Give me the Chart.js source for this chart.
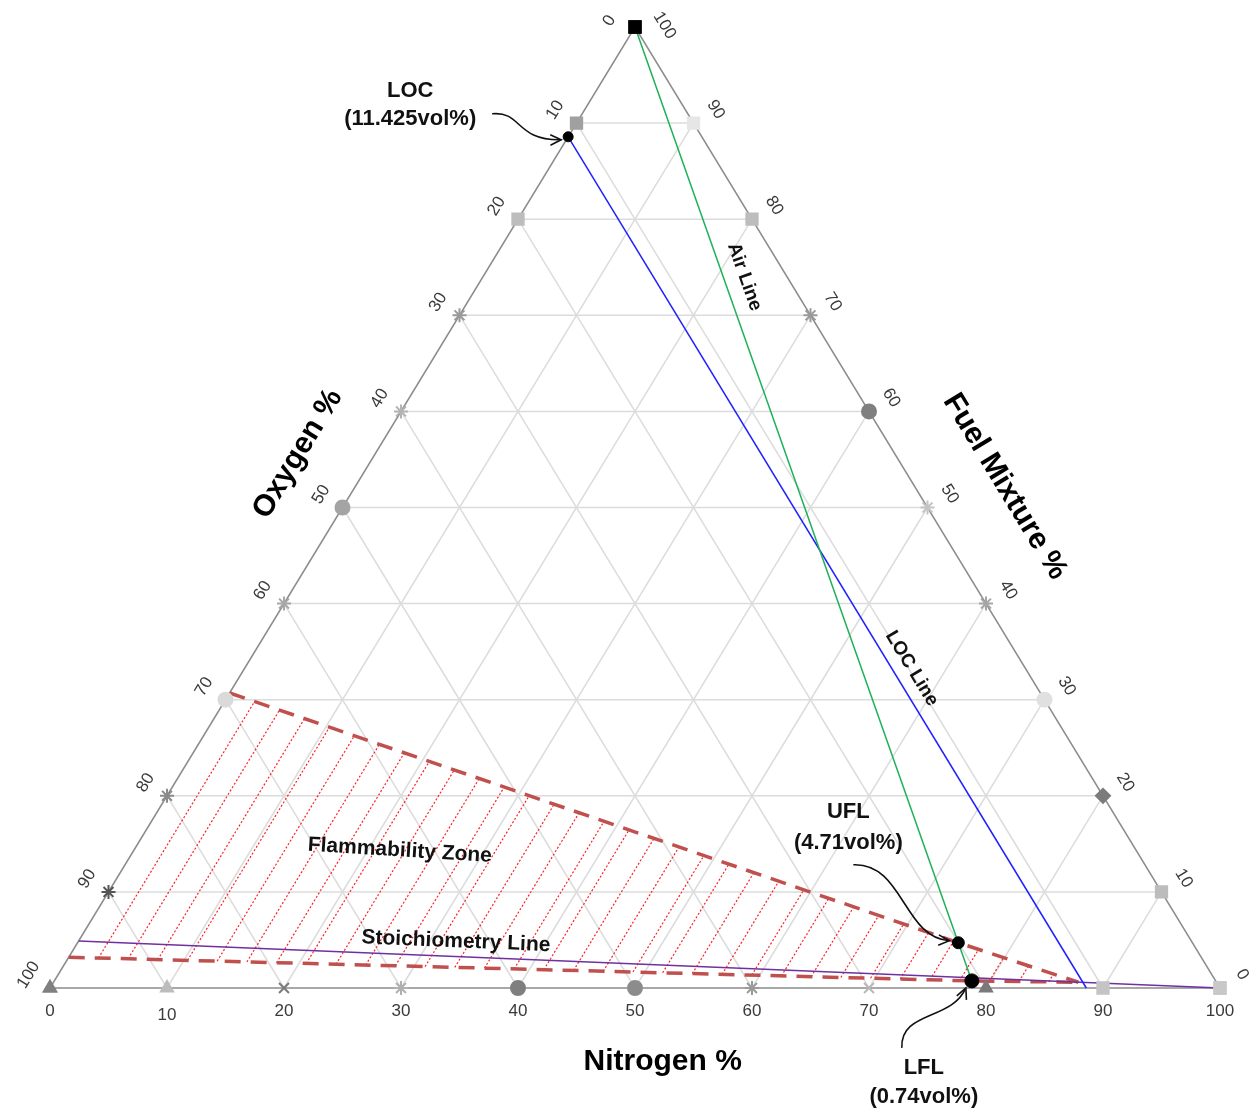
<!DOCTYPE html>
<html>
<head>
<meta charset="utf-8">
<title>Flammability diagram</title>
<script src="https://cdn.jsdelivr.net/npm/chart.js@4.4.1/dist/chart.umd.min.js"></script>
<style>
  html, body { margin: 0; padding: 0; background: #fff; }
</style>
</head>
<body>
<canvas id="ternaryChart" width="1257" height="1118"></canvas>
<script>
// every ternary point is [Oxygen, Fuel, Nitrogen] in vol%
const tickValues = [0, 10, 20, 30, 40, 50, 60, 70, 80, 90, 100];
const gridLevels = [10, 20, 30, 40, 50, 60, 70, 80, 90];

const airLine = [[0, 100, 0], [21, 0, 79]];
const locLine = [[11.425, 88.575, 0], [11.425, 0, 88.575]];
const stoichLine = [[95.1, 4.9, 0], [0, 0, 100]];
const upperLimit = [[69.3, 30.7, 0], [20.01, 4.71, 75.28], [11.8, 0.6, 87.6]];
const lowerLimit = [[96.8, 3.2, 0], [20.84, 0.74, 78.42], [11.8, 0.6, 87.6]];

const locPoint = [11.425, 88.575, 0];
const uflPoint = [20.01, 4.71, 75.28];
const lflPoint = [20.84, 0.74, 78.42];

// marker look of the tick points on each side (Excel style)
const bottomShapes = ['triangle', 'triangle', 'crossRot', 'star', 'circle', 'circle', 'star', 'crossRot', 'triangle', 'rect', 'rect'];
const bottomColors = ['#808080', '#bcbcbc', '#7a7a7a', '#b0b0b0', '#7f7f7f', '#8c8c8c', '#9a9a9a', '#b8b8b8', '#7a7a7a', '#c4c4c4', '#c8c8c8'];
const leftShapes = ['rect', 'rect', 'rect', 'star', 'star', 'circle', 'star', 'circle', 'star', 'star', 'triangle'];
const leftColors = ['#000000', '#a0a0a0', '#bdbdbd', '#9a9a9a', '#b4b4b4', '#a4a4a4', '#a8a8a8', '#dadada', '#8a8a8a', '#555555', '#808080'];
const rightShapes = ['rect', 'rect', 'rectRot', 'circle', 'star', 'star', 'circle', 'star', 'rect', 'rect', 'rect'];
const rightColors = ['#c8c8c8', '#bcbcbc', '#7c7c7c', '#e0e0e0', '#a6a6a6', '#c4c4c4', '#7f7f7f', '#9a9a9a', '#bdbdbd', '#e6e6e6', '#000000'];

const FONT = "'Liberation Sans', Arial, sans-serif";

// ternary -> plain x/y (0..100) used by the linear scales
function tern(p) {
    const s = p[0] + p[1] + p[2];
    return { x: (p[2] + p[1] / 2) * 100 / s, y: p[1] * 100 / s };
}

function lineSet(points, style, order) {
    return Object.assign({
        data: points.map(tern),
        showLine: true,
        pointRadius: 0,
        fill: false,
        clip: false,
        order: order
    }, style);
}

const datasets = [];

// grid
gridLevels.forEach(function (k) {
    const grid = { borderColor: '#dcdcdc', borderWidth: 1.5 };
    datasets.push(lineSet([[100 - k, k, 0], [0, k, 100 - k]], grid, 20));   // fuel = k
    datasets.push(lineSet([[k, 100 - k, 0], [k, 0, 100 - k]], grid, 20));   // oxygen = k
    datasets.push(lineSet([[100 - k, 0, k], [0, 100 - k, k]], grid, 20));   // nitrogen = k
});

// triangle frame
datasets.push(lineSet([[100, 0, 0], [0, 0, 100], [0, 100, 0], [100, 0, 0]],
    { borderColor: '#8c8c8c', borderWidth: 1.5 }, 19));

// flammability limits (hatch is drawn just before the lower one)
datasets.push(lineSet(lowerLimit,
    { borderColor: '#c0504d', borderWidth: 3.5, borderDash: [16, 10], hatchZone: true }, 8));
datasets.push(lineSet(upperLimit,
    { borderColor: '#c0504d', borderWidth: 3.5, borderDash: [16, 10] }, 7));

datasets.push(lineSet(stoichLine, { borderColor: '#7030a0', borderWidth: 1.5 }, 6));
datasets.push(lineSet(airLine, { borderColor: '#1fb05a', borderWidth: 1.5 }, 5));
datasets.push(lineSet(locLine, { borderColor: '#2020ff', borderWidth: 1.5 }, 5));

// tick markers on the three sides
function markerSet(points, shapes, colors) {
    return {
        data: points.map(tern),
        showLine: false,
        clip: false,
        order: 3,
        pointStyle: shapes,
        pointRadius: shapes.map(function (s) { return s === 'rect' ? 8 : 7; }),
        pointBackgroundColor: colors,
        pointBorderColor: colors,
        pointBorderWidth: 2
    };
}
datasets.push(markerSet(tickValues.map(function (t) { return [100 - t, 0, t]; }), bottomShapes, bottomColors));
datasets.push(markerSet(tickValues.map(function (t) { return [0, t, 100 - t]; }), rightShapes, rightColors));
datasets.push(markerSet(tickValues.map(function (t) { return [t, 100 - t, 0]; }), leftShapes, leftColors));

// key points
datasets.push({
    data: [locPoint, uflPoint, lflPoint].map(tern),
    showLine: false,
    clip: false,
    order: 1,
    pointRadius: [5, 6, 7],
    pointBackgroundColor: '#000',
    pointBorderColor: '#000'
});

function px(chart, p) {
    const v = tern(p);
    return { x: chart.scales.x.getPixelForValue(v.x), y: chart.scales.y.getPixelForValue(v.y) };
}

function pointOnPoly(poly, t) {
    const xT = poly[0].x + t * (poly[poly.length - 1].x - poly[0].x);
    for (let i = 1; i < poly.length; i++) {
        const a = poly[i - 1], b = poly[i];
        if (xT <= b.x || i === poly.length - 1) {
            const f = (xT - a.x) / (b.x - a.x);
            return { x: xT, y: a.y + f * (b.y - a.y) };
        }
    }
}

const hatchPlugin = {
    id: 'hatch',
    beforeDatasetDraw: function (chart, args) {
        if (!chart.data.datasets[args.index].hatchZone) return;
        const ctx = chart.ctx;
        const lower = lowerLimit.map(function (p) { return px(chart, p); });
        const upper = upperLimit.map(function (p) { return px(chart, p); });
        const n = 34;
        ctx.save();
        ctx.strokeStyle = '#ff2020';
        ctx.lineWidth = 1.2;
        ctx.setLineDash([2, 2]);
        for (let i = 1; i < n; i++) {
            const a = pointOnPoly(lower, i / n), b = pointOnPoly(upper, i / n);
            ctx.beginPath();
            ctx.moveTo(a.x, a.y);
            ctx.lineTo(b.x, b.y);
            ctx.stroke();
        }
        ctx.restore();
    }
};

function rotatedText(ctx, text, x, y, angle, font, color) {
    ctx.save();
    ctx.translate(x, y);
    ctx.rotate(angle);
    ctx.font = font;
    ctx.fillStyle = color;
    ctx.textAlign = 'center';
    ctx.textBaseline = 'middle';
    ctx.fillText(text, 0, 0);
    ctx.restore();
}

// text placed along a segment p0->p1 at fraction f, shifted off by d
function alongText(ctx, text, p0, p1, f, d, font) {
    const dx = p1.x - p0.x, dy = p1.y - p0.y, len = Math.hypot(dx, dy);
    const nx = dy / len, ny = -dx / len;
    rotatedText(ctx, text, p0.x + dx * f + nx * d, p0.y + dy * f + ny * d, Math.atan2(dy, dx), font, '#111');
}

function curvedArrow(ctx, base, pts) {
    const p = pts.map(function (o) { return { x: base.x + o[0], y: base.y + o[1] }; });
    ctx.save();
    ctx.strokeStyle = '#111';
    ctx.lineWidth = 1.6;
    ctx.beginPath();
    ctx.moveTo(p[0].x, p[0].y);
    ctx.bezierCurveTo(p[1].x, p[1].y, p[2].x, p[2].y, p[3].x, p[3].y);
    ctx.stroke();
    const ang = Math.atan2(p[3].y - p[2].y, p[3].x - p[2].x);
    ctx.beginPath();
    ctx.moveTo(p[3].x - 12 * Math.cos(ang - 0.45), p[3].y - 12 * Math.sin(ang - 0.45));
    ctx.lineTo(p[3].x, p[3].y);
    ctx.lineTo(p[3].x - 12 * Math.cos(ang + 0.45), p[3].y - 12 * Math.sin(ang + 0.45));
    ctx.stroke();
    ctx.restore();
}

const labelPlugin = {
    id: 'ternaryLabels',
    afterDatasetsDraw: function (chart) {
        const ctx = chart.ctx;
        const bl = px(chart, [100, 0, 0]), br = px(chart, [0, 0, 100]), top = px(chart, [0, 100, 0]);
        const leftAng = Math.atan2(bl.y - top.y, bl.x - top.x) + Math.PI;   // reads upward
        const rightAng = Math.atan2(br.y - top.y, br.x - top.x);             // reads downward
        const tickFont = '17px ' + FONT;
        const tickColor = '#3a3a3a';

        function unit(a, b) {
            const dx = b.x - a.x, dy = b.y - a.y, l = Math.hypot(dx, dy);
            return { x: dx / l, y: dy / l };
        }
        const uLeft = unit(top, bl), uRight = unit(top, br);
        const nLeft = { x: -uLeft.y, y: uLeft.x };      // outward, up-left
        const nRight = { x: uRight.y, y: -uRight.x };   // outward, up-right

        tickValues.forEach(function (t) {
            const b = px(chart, [100 - t, 0, t]);
            ctx.font = tickFont;
            ctx.fillStyle = tickColor;
            ctx.textAlign = 'center';
            ctx.textBaseline = 'middle';
            ctx.fillText(String(t), b.x, b.y + (t === 10 ? 27 : 23));

            const l = px(chart, [t, 100 - t, 0]);
            const sl = t === 0 ? 8 : 0;
            rotatedText(ctx, String(t), l.x + nLeft.x * 25 + uLeft.x * sl, l.y + nLeft.y * 25 + uLeft.y * sl,
                leftAng, tickFont, tickColor);

            const r = px(chart, [0, t, 100 - t]);
            const sr = t === 100 ? 14 : 0;
            rotatedText(ctx, String(t), r.x + nRight.x * 26 + uRight.x * sr, r.y + nRight.y * 26 + uRight.y * sr,
                rightAng, tickFont, tickColor);
        });

        // axis titles
        const titleFont = 'bold 30px ' + FONT;
        const o = px(chart, [48, 52, 0]);
        rotatedText(ctx, 'Oxygen %', o.x + nLeft.x * 66, o.y + nLeft.y * 66, leftAng, titleFont, '#000');
        const fm = px(chart, [0, 48, 52]);
        rotatedText(ctx, 'Fuel Mixture %', fm.x + nRight.x * 77, fm.y + nRight.y * 77, rightAng, titleFont, '#000');
        const nb = px(chart, [49, 0, 51]);
        rotatedText(ctx, 'Nitrogen %', nb.x + 16, nb.y + 74, 0, titleFont, '#000');

        // line labels
        const lineFont = 'bold 19px ' + FONT;
        alongText(ctx, 'Air Line', px(chart, airLine[0]), px(chart, airLine[1]), 0.267, 20, lineFont);
        alongText(ctx, 'LOC Line', px(chart, locLine[0]), px(chart, locLine[1]), 0.635, 17, lineFont);
        const s0 = px(chart, stoichLine[0]), s1 = px(chart, stoichLine[1]);
        alongText(ctx, 'Stoichiometry Line', s0, s1, 0.33, 15, 'bold 21px ' + FONT);
        const fz = { x: chart.scales.x.getPixelForValue(29.9), y: chart.scales.y.getPixelForValue(14.3) };
        rotatedText(ctx, 'Flammability Zone', fz.x, fz.y, 0.062, 'bold 21px ' + FONT, '#111');

        // annotations
        const noteFont = 'bold 22px ' + FONT;
        const loc = px(chart, locPoint), ufl = px(chart, uflPoint), lfl = px(chart, lflPoint);
        rotatedText(ctx, 'LOC', loc.x - 158, loc.y - 46, 0, noteFont, '#111');
        rotatedText(ctx, '(11.425vol%)', loc.x - 158, loc.y - 18, 0, noteFont, '#111');
        rotatedText(ctx, 'UFL', ufl.x - 110, ufl.y - 131, 0, noteFont, '#111');
        rotatedText(ctx, '(4.71vol%)', ufl.x - 110, ufl.y - 100, 0, noteFont, '#111');
        rotatedText(ctx, 'LFL', lfl.x - 48, lfl.y + 87, 0, noteFont, '#111');
        rotatedText(ctx, '(0.74vol%)', lfl.x - 48, lfl.y + 116, 0, noteFont, '#111');

        curvedArrow(ctx, loc, [[-76, -23], [-46, -26], [-53, 4], [-7, 3]]);
        curvedArrow(ctx, ufl, [[-105, -78], [-55, -80], [-55, -5], [-9, -2]]);
        curvedArrow(ctx, lfl, [[-70, 67], [-72, 30], [-20, 40], [-6, 7]]);
    }
};

new Chart(document.getElementById('ternaryChart'), {
    type: 'scatter',
    data: { datasets: datasets },
    options: {
        responsive: false,
        animation: false,
        devicePixelRatio: 1,
        layout: { padding: { left: 50, right: 37, top: 27, bottom: 130 } },
        scales: {
            x: { type: 'linear', min: 0, max: 100, display: false },
            y: { type: 'linear', min: 0, max: 100, display: false }
        },
        elements: { line: { tension: 0 } },
        plugins: {
            legend: { display: false },
            tooltip: { enabled: false }
        }
    },
    plugins: [hatchPlugin, labelPlugin]
});
</script>
</body>
</html>
